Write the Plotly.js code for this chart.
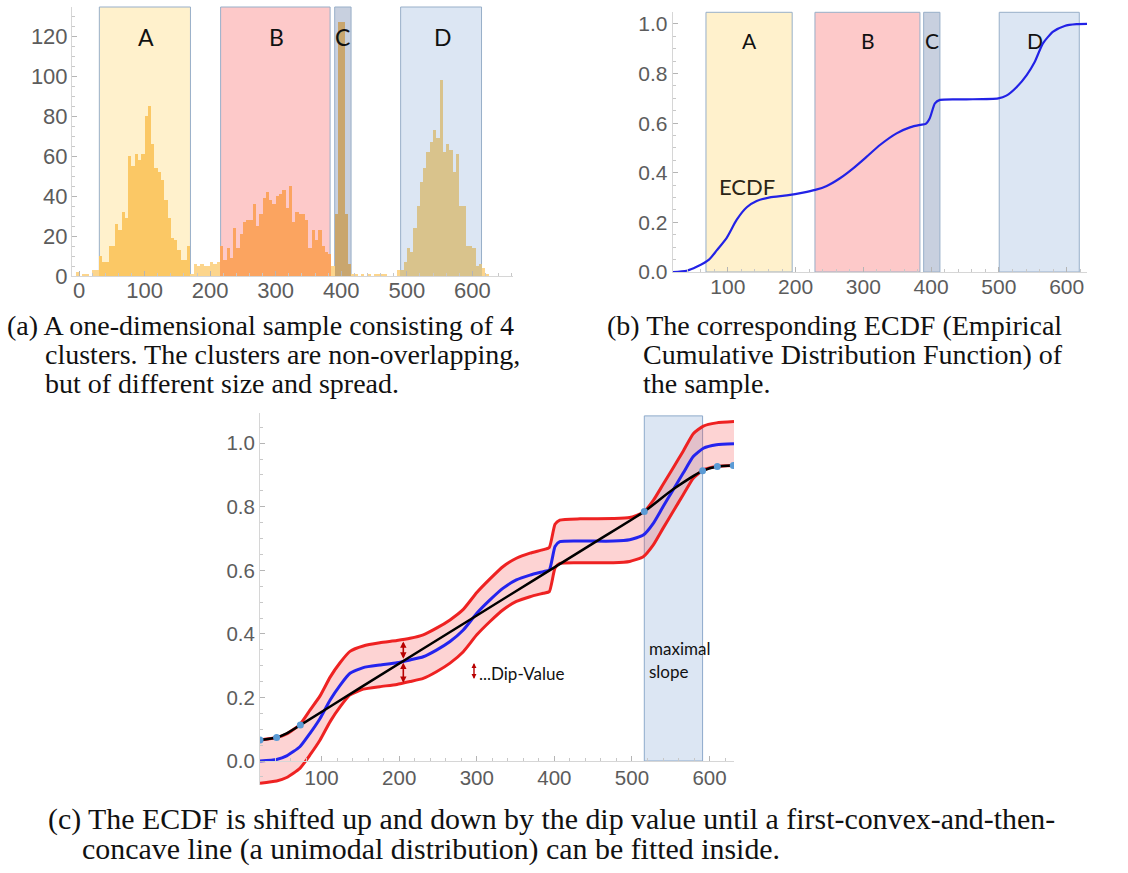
<!DOCTYPE html>
<html>
<head>
<meta charset="utf-8">
<script src="https://cdn.plot.ly/plotly-3.0.1.min.js"></script>
<style>
  html, body { margin: 0; padding: 0; background: #fff; }
  #plot { width: 1128px; height: 873px; }
</style>
</head>
<body>
<div id="plot"></div>
<script>
// ---------------- DATA ----------------
// (a) histogram: left edges of bins (width 5) and counts
const binWidth = 5;
const histBinStart = [-5,0,5,10,15,20,25,30,35,40,45,50,55,60,65,70,75,80,85,90,95,100,105,110,115,120,125,130,135,140,145,150,155,160,165,170,175,180,185,190,195,200,205,210,215,220,225,230,235,240,245,250,255,260,265,270,275,280,285,290,295,300,305,310,315,320,325,330,335,340,345,350,355,360,365,370,375,380,385,390,395,400,405,410,415,420,425,430,435,440,445,450,455,460,465,470,475,480,485,490,495,500,505,510,515,520,525,530,535,540,545,550,555,560,565,570,575,580,585,590,595,600,605,610,615,620];
const histCounts = [2,0,1,1,0,3,3,10,7,7,
  15,15,26,23,32,29,60,55,61,58,
  61,80,85,66,54,52,48,38,29,19,
  18,13,8,8,15,1,6,5,6,5,
  5,7,6,7,15,8,14,9,24,14,
  21,27,28,28,36,25,31,39,42,38,
  36,40,41,43,34,45,27,32,31,31,
  28,14,23,18,23,15,12,11,5,31,
  127,127,31,6,1,1,0,1,0,1,
  0,1,1,1,1,0,0,0,3,3,
  7,14,12,24,35,47,54,62,67,73,
  69,98,62,66,63,52,61,35,35,15,
  15,14,5,6,4,1];

// cluster labels and their ranges in (a) and (b)
const clusterNames = ['A','B','C','D'];
const clusterFrom_a = [31, 216, 390, 490.6];
const clusterTo_a   = [170, 383, 415, 614];
const clusterFrom_b = [67.8, 228.6, 389, 500.5];
const clusterTo_b   = [195, 383.5, 413, 618.6];

// (b) ECDF
const ecdfX = [18.7,39.3,54,72.7,83.6,98.4,113,128,142.6,162,187,211,229,246,265.5,285,305,324.5,349,368.7,383.5,392,398,405.6,413,452,499,511,526,541,553,565,580,597,614.6,630];
const ecdfY = [0,0.005,0.021,0.051,0.087,0.138,0.21,0.261,0.286,0.301,0.309,0.320,0.331,0.347,0.378,0.418,0.465,0.512,0.559,0.583,0.593,0.597,0.62,0.680,0.694,0.696,0.700,0.711,0.745,0.794,0.848,0.922,0.969,0.992,0.999,1.0];

// (c) ECDF and the curves shifted up / down by the dip value
const dipX = [20.6,42,55,72,85,98,111,124,136.6,153.7,175,197,214,231,248,265.5,282.6,300,317,334,351,368.6,385.7,393.5,400.8,407,433,476,497,514.6,527.5,540,553,566,579,592,609,631.5];
const dipEcdf = [0.000,0.005,0.016,0.045,0.087,0.134,0.192,0.239,0.276,0.294,0.302,0.309,0.318,0.328,0.349,0.376,0.412,0.465,0.507,0.544,0.570,0.585,0.596,0.601,0.675,0.690,0.692,0.692,0.696,0.711,0.748,0.800,0.853,0.906,0.958,0.984,0.995,0.998];
const dipUpper = [0.066,0.074,0.085,0.115,0.160,0.205,0.264,0.310,0.345,0.362,0.372,0.379,0.386,0.397,0.418,0.444,0.477,0.530,0.573,0.612,0.638,0.654,0.665,0.672,0.745,0.758,0.762,0.763,0.766,0.782,0.820,0.870,0.922,0.975,1.030,1.054,1.064,1.068];
const dipLower = [-0.070,-0.063,-0.052,-0.023,0.019,0.066,0.124,0.171,0.208,0.226,0.234,0.241,0.250,0.260,0.281,0.308,0.344,0.397,0.439,0.476,0.502,0.517,0.528,0.533,0.607,0.622,0.624,0.624,0.628,0.643,0.680,0.732,0.785,0.838,0.890,0.916,0.927,0.930];
// fitted unimodal (convex then concave) curve and its touching points
const fitX = [20.6,42,55,72.6,150,300,454,515.9,553,591,610,630.6];
const fitY = [0.066,0.074,0.087,0.113,0.231,0.458,0.691,0.785,0.855,0.913,0.927,0.930];
const touchX = [20.6,42,72.6,515.9,591,610,630.6];
const touchY = [0.066,0.074,0.113,0.785,0.913,0.927,0.930];
const maxSlopeFrom = 515.9, maxSlopeTo = 591, maxSlopeTop = 1.086;

// tick labels
const xTicksA = [0,100,200,300,400,500,600];
const yTicksA = [0,20,40,60,80,100,120];
const xTicksBC = [100,200,300,400,500,600];
const yTicksBC = [0,0.2,0.4,0.6,0.8,1.0];

// captions
const captionA = ['(a) A one-dimensional sample consisting of 4', 'clusters. The clusters are non-overlapping,', 'but of different size and spread.'];
const captionB = ['(b) The corresponding ECDF (Empirical', 'Cumulative Distribution Function) of', 'the sample.'];
const captionC = ['(c) The ECDF is shifted up and down by the dip value until a first-convex-and-then-', 'concave line (a unimodal distribution) can be fitted inside.'];

// ---------------- STYLE / LAYOUT ----------------
const W = 1128, H = 873;
const fx = px => px / W;
const fy = py => 1 - py / H;

const tickFont = {family: 'Liberation Sans, Arial, sans-serif', size: 22, color: '#5c5c5c'};
const tickFontB = {family: 'Liberation Sans, Arial, sans-serif', size: 21, color: '#5c5c5c'};
const tickFontC = {family: 'Liberation Sans Narrow, Liberation Sans, Arial, sans-serif', size: 20.5, color: '#5c5c5c'};
const lblFont = {family: 'Lato, Carlito, Open Sans, sans-serif', size: 22, color: '#111'};
const capFont = {family: 'Liberation Serif, Times New Roman, serif', size: 28, color: '#111'};
const capFontC = {family: 'Liberation Serif, Times New Roman, serif', size: 29.9, color: '#111'};

const axBase = {
  showgrid: false, zeroline: false, showline: true, linecolor: '#d6d6d6', linewidth: 1,
  ticks: 'inside', ticklen: 5, tickcolor: '#b5b5b5', tickwidth: 1, fixedrange: true
};

// bar colours: histogram colour seen through each cluster's tint
const barOutside = '#fcd58c';
const barInCluster = ['#fbc865', '#fba460', '#c9a66e', '#d9c38c'];
const barColors = histBinStart.map(b => {
  const c = b + binWidth / 2;
  for (let i = 0; i < clusterNames.length; i++) {
    if (c >= clusterFrom_a[i] && c <= clusterTo_a[i]) return barInCluster[i];
  }
  return barOutside;
});

const traces = [];

// (a) histogram
traces.push({
  type: 'bar', xaxis: 'x', yaxis: 'y',
  x: histBinStart.map(b => b + binWidth / 2),
  y: histCounts,
  width: binWidth,
  marker: {color: barColors, line: {width: 0}},
  hoverinfo: 'skip', showlegend: false
});

// (b) ECDF
traces.push({
  type: 'scatter', mode: 'lines', xaxis: 'x2', yaxis: 'y2',
  x: ecdfX, y: ecdfY,
  line: {color: '#2222e6', width: 2.2, shape: 'spline', smoothing: 0.6},
  hoverinfo: 'skip', showlegend: false
});

// (c) band
traces.push({
  type: 'scatter', mode: 'lines', xaxis: 'x3', yaxis: 'y3',
  x: dipX, y: dipLower,
  line: {color: '#ee2222', width: 3, shape: 'spline', smoothing: 0.5},
  hoverinfo: 'skip', showlegend: false
});
traces.push({
  type: 'scatter', mode: 'lines', xaxis: 'x3', yaxis: 'y3',
  x: dipX, y: dipUpper, fill: 'tonexty', fillcolor: 'rgba(248,70,70,0.24)',
  line: {color: '#ee2222', width: 3, shape: 'spline', smoothing: 0.5},
  hoverinfo: 'skip', showlegend: false
});
traces.push({
  type: 'scatter', mode: 'lines', xaxis: 'x3', yaxis: 'y3',
  x: dipX, y: dipEcdf,
  line: {color: '#2424ee', width: 3, shape: 'spline', smoothing: 0.5},
  hoverinfo: 'skip', showlegend: false
});
traces.push({
  type: 'scatter', mode: 'lines', xaxis: 'x3', yaxis: 'y3',
  x: fitX, y: fitY,
  line: {color: '#000', width: 2.5, shape: 'spline', smoothing: 0.6},
  hoverinfo: 'skip', showlegend: false
});
traces.push({
  type: 'scatter', mode: 'markers', xaxis: 'x3', yaxis: 'y3',
  x: touchX, y: touchY,
  marker: {color: '#5b9bd5', size: 7},
  hoverinfo: 'skip', showlegend: false
});

const fillA = ['#fff1cc', '#fdc9c9', '#c8d0df', '#dce6f3'];
const shapes = [];
clusterNames.forEach((n, i) => {
  shapes.push({type: 'rect', xref: 'x', yref: 'y domain', x0: clusterFrom_a[i], x1: clusterTo_a[i], y0: 0, y1: 1,
    fillcolor: fillA[i], line: {color: '#98afc9', width: 1}, layer: 'below'});
  shapes.push({type: 'rect', xref: 'x2', yref: 'y2 domain', x0: clusterFrom_b[i], x1: clusterTo_b[i], y0: 0, y1: 1,
    fillcolor: fillA[i], line: {color: '#98afc9', width: 1}, layer: 'below'});
});
shapes.push({type: 'rect', xref: 'x3', yref: 'y3', x0: maxSlopeFrom, x1: maxSlopeTo, y0: 0, y1: maxSlopeTop,
  fillcolor: '#dce6f3', line: {color: '#8eaacb', width: 1}, layer: 'below'});

const labelYa = [119.7, 119.7, 119.7, 119.7];
const labelXa = [101.8, 301.6, 402.3, 554.9];
const labelXb = [131.3, 306.3, 401.2, 553];
const annotations = [];
clusterNames.forEach((n, i) => {
  annotations.push({xref: 'x', yref: 'y', x: labelXa[i], y: labelYa[i], text: n, showarrow: false, font: Object.assign({}, lblFont, {size: 23})});
  annotations.push({xref: 'x2', yref: 'y2', x: labelXb[i], y: 0.935, text: n, showarrow: false, font: Object.assign({}, lblFont, {size: 21})});
});
annotations.push({xref: 'x2', yref: 'y2', x: 127.9, y: 0.344, text: 'ECDF', showarrow: false,
  font: {family: lblFont.family, size: 22, color: '#2b2516'}});

// (c) labels
annotations.push({xref: 'x3', yref: 'y3', x: 519, y: 0.355, xanchor: 'left', text: 'maximal', showarrow: false,
  font: {family: lblFont.family, size: 17, color: '#111'}});
annotations.push({xref: 'x3', yref: 'y3', x: 519, y: 0.281, xanchor: 'left', text: 'slope', showarrow: false,
  font: {family: lblFont.family, size: 17, color: '#111'}});
annotations.push({xref: 'x3', yref: 'y3', x: 300, y: 0.276, xanchor: 'left', text: '...Dip-Value', showarrow: false,
  font: {family: lblFont.family, size: 17, color: '#111'}});
const arrowStyle = {showarrow: true, arrowcolor: '#b80000', arrowhead: 2, startarrowhead: 2, arrowside: 'end+start',
  arrowsize: 0.8, startarrowsize: 0.8, arrowwidth: 1.6, text: '', axref: 'x3', ayref: 'y3', xref: 'x3', yref: 'y3'};
annotations.push(Object.assign({}, arrowStyle, {x: 205.3, y: 0.322, ax: 205.3, ay: 0.381}));
annotations.push(Object.assign({}, arrowStyle, {x: 205.3, y: 0.246, ax: 205.3, ay: 0.314}));
annotations.push(Object.assign({}, arrowStyle, {x: 296.4, y: 0.258, ax: 296.4, ay: 0.313, arrowwidth: 1.4, arrowsize: 0.7, startarrowsize: 0.7}));

// captions
const capLine = (txt, x, y, font) => ({xref: 'paper', yref: 'paper', x: fx(x), y: fy(y), xanchor: 'left', yanchor: 'middle',
  text: txt, showarrow: false, font: font});
const capY = [325, 354, 383];
captionA.forEach((t, i) => annotations.push(capLine(t, i === 0 ? 5 : 43, capY[i], capFont)));
captionB.forEach((t, i) => annotations.push(capLine(t, i === 0 ? 605 : 641, capY[i], capFont)));
const capYc = [819, 849];
captionC.forEach((t, i) => annotations.push(capLine(t, i === 0 ? 46 : 80, capYc[i], capFontC)));

const layout = {
  width: W, height: H,
  margin: {l: 0, r: 0, t: 0, b: 0, pad: 0},
  paper_bgcolor: '#fff', plot_bgcolor: 'rgba(0,0,0,0)',
  showlegend: false, bargap: 0,
  xaxis: Object.assign({}, axBase, {domain: [fx(72), fx(513)], range: [-10.7, 662], anchor: 'y',
    tickmode: 'array', tickvals: xTicksA, ticktext: xTicksA.map(String), tickfont: tickFont, ticklabelstandoff: -5,
    minor: {ticks: 'inside', ticklen: 3, tickcolor: '#c8c8c8', dtick: 20, tick0: 0}}),
  yaxis: Object.assign({}, axBase, {domain: [fy(276), fy(7)], range: [0, 134.5], anchor: 'x',
    tickmode: 'array', tickvals: yTicksA, ticktext: yTicksA.map(String), tickfont: tickFont, ticklabelstandoff: -1,
    minor: {ticks: 'inside', ticklen: 3, tickcolor: '#c8c8c8', dtick: 5, tick0: 0}}),
  xaxis2: Object.assign({}, axBase, {domain: [fx(672.7), fx(1087)], range: [18.7, 630], anchor: 'y2',
    tickmode: 'array', tickvals: xTicksBC, ticktext: xTicksBC.map(String), tickfont: tickFontB, ticklabelstandoff: -4,
    minor: {ticks: 'inside', ticklen: 3, tickcolor: '#c8c8c8', dtick: 20, tick0: 0}}),
  yaxis2: Object.assign({}, axBase, {domain: [fy(272), fy(12.3)], range: [0, 1.047], anchor: 'x2',
    tickmode: 'array', tickvals: yTicksBC, ticktext: yTicksBC.map(v => v.toFixed(1)), tickfont: tickFontB,
    minor: {ticks: 'inside', ticklen: 3, tickcolor: '#c8c8c8', dtick: 0.05, tick0: 0}}),
  xaxis3: Object.assign({}, axBase, {domain: [fx(260), fx(734)], range: [20.6, 631.5], anchor: 'free', position: fy(761),
    tickmode: 'array', tickvals: xTicksBC, ticktext: xTicksBC.map(String), tickfont: tickFontC, ticklabelstandoff: -2,
    minor: {ticks: 'inside', ticklen: 3, tickcolor: '#c8c8c8', dtick: 20, tick0: 0}}),
  yaxis3: Object.assign({}, axBase, {domain: [fy(785), fy(412.7)], range: [-0.0755, 1.096], anchor: 'x3',
    tickmode: 'array', tickvals: yTicksBC, ticktext: yTicksBC.map(v => v.toFixed(1)), tickfont: tickFontC,
    minor: {ticks: 'inside', ticklen: 3, tickcolor: '#c8c8c8', dtick: 0.05, tick0: 0}}),
  shapes: shapes,
  annotations: annotations
};

Plotly.newPlot('plot', traces, layout, {staticPlot: true, displayModeBar: false});
</script>
</body>
</html>
